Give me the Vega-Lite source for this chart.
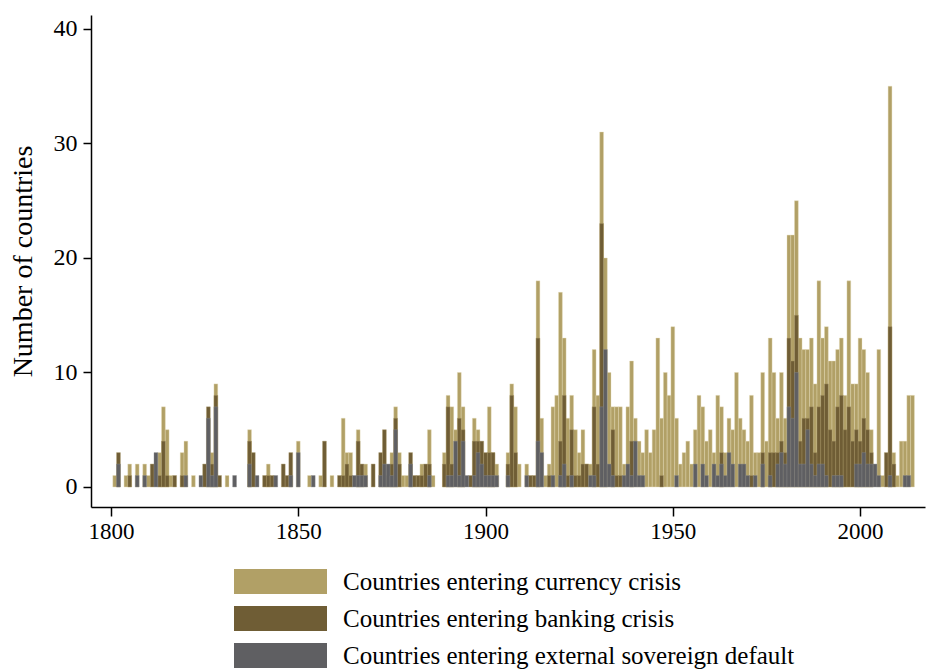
{
  "$schema": "https://vega.github.io/schema/vega-lite/v6.json",
  "width": 834,
  "height": 492,
  "autosize": {"type": "none"},
  "padding": {"left": 91, "top": 15, "right": 14, "bottom": 163},
  "background": "white",
  "config": {"view": {"stroke": null}, "font": "Liberation Serif"},
  "datasets": {
    "currency": [
      {"year":1801,"n":1},{"year":1804,"n":1},{"year":1805,"n":2},{"year":1807,"n":2},{"year":1809,"n":2},{"year":1810,"n":1},{"year":1813,"n":3},{"year":1814,"n":7},{"year":1815,"n":5},{"year":1816,"n":1},{"year":1819,"n":3},{"year":1820,"n":4},{"year":1822,"n":1},{"year":1827,"n":3},{"year":1828,"n":9},{"year":1831,"n":1},{"year":1837,"n":5},{"year":1842,"n":2},{"year":1850,"n":4},{"year":1853,"n":1},{"year":1856,"n":1},{"year":1859,"n":1},{"year":1862,"n":6},{"year":1863,"n":3},{"year":1864,"n":3},{"year":1866,"n":5},{"year":1868,"n":2},{"year":1875,"n":3},{"year":1876,"n":7},{"year":1877,"n":3},{"year":1878,"n":1},{"year":1879,"n":1},{"year":1883,"n":2},{"year":1885,"n":5},{"year":1886,"n":1},{"year":1889,"n":3},{"year":1890,"n":8},{"year":1891,"n":7},{"year":1892,"n":5},{"year":1893,"n":10},{"year":1894,"n":7},{"year":1897,"n":6},{"year":1898,"n":5},{"year":1901,"n":7},{"year":1902,"n":3},{"year":1903,"n":2},{"year":1906,"n":3},{"year":1907,"n":9},{"year":1908,"n":7},{"year":1909,"n":2},{"year":1911,"n":2},{"year":1914,"n":18},{"year":1915,"n":6},{"year":1916,"n":1},{"year":1917,"n":2},{"year":1918,"n":7},{"year":1919,"n":8},{"year":1920,"n":17},{"year":1921,"n":13},{"year":1922,"n":6},{"year":1923,"n":8},{"year":1924,"n":5},{"year":1925,"n":3},{"year":1926,"n":5},{"year":1927,"n":2},{"year":1928,"n":2},{"year":1929,"n":12},{"year":1930,"n":8},{"year":1931,"n":31},{"year":1932,"n":20},{"year":1933,"n":10},{"year":1934,"n":7},{"year":1935,"n":7},{"year":1936,"n":7},{"year":1937,"n":2},{"year":1938,"n":7},{"year":1939,"n":11},{"year":1940,"n":6},{"year":1941,"n":4},{"year":1942,"n":3},{"year":1943,"n":5},{"year":1944,"n":3},{"year":1945,"n":5},{"year":1946,"n":13},{"year":1947,"n":6},{"year":1948,"n":10},{"year":1949,"n":8},{"year":1950,"n":14},{"year":1951,"n":6},{"year":1952,"n":2},{"year":1953,"n":3},{"year":1954,"n":4},{"year":1955,"n":2},{"year":1956,"n":5},{"year":1957,"n":8},{"year":1958,"n":7},{"year":1959,"n":4},{"year":1960,"n":5},{"year":1961,"n":3},{"year":1962,"n":8},{"year":1963,"n":7},{"year":1964,"n":3},{"year":1965,"n":6},{"year":1966,"n":5},{"year":1967,"n":10},{"year":1968,"n":6},{"year":1969,"n":5},{"year":1970,"n":4},{"year":1971,"n":8},{"year":1972,"n":3},{"year":1973,"n":3},{"year":1974,"n":10},{"year":1975,"n":4},{"year":1976,"n":13},{"year":1977,"n":10},{"year":1978,"n":6},{"year":1979,"n":10},{"year":1980,"n":6},{"year":1981,"n":22},{"year":1982,"n":22},{"year":1983,"n":25},{"year":1984,"n":13},{"year":1985,"n":12},{"year":1986,"n":12},{"year":1987,"n":13},{"year":1988,"n":9},{"year":1989,"n":18},{"year":1990,"n":13},{"year":1991,"n":14},{"year":1992,"n":11},{"year":1993,"n":11},{"year":1994,"n":12},{"year":1995,"n":13},{"year":1996,"n":8},{"year":1997,"n":18},{"year":1998,"n":9},{"year":1999,"n":9},{"year":2000,"n":13},{"year":2001,"n":12},{"year":2002,"n":10},{"year":2003,"n":5},{"year":2005,"n":12},{"year":2006,"n":1},{"year":2008,"n":35},{"year":2009,"n":3},{"year":2010,"n":1},{"year":2011,"n":4},{"year":2012,"n":4},{"year":2013,"n":8},{"year":2014,"n":8}
    ],
    "banking": [
      {"year":1802,"n":3},{"year":1805,"n":1},{"year":1811,"n":2},{"year":1813,"n":1},{"year":1814,"n":4},{"year":1815,"n":1},{"year":1817,"n":1},{"year":1819,"n":1},{"year":1825,"n":2},{"year":1826,"n":7},{"year":1827,"n":2},{"year":1828,"n":8},{"year":1829,"n":1},{"year":1837,"n":4},{"year":1838,"n":3},{"year":1841,"n":1},{"year":1842,"n":1},{"year":1843,"n":1},{"year":1846,"n":2},{"year":1847,"n":1},{"year":1848,"n":3},{"year":1857,"n":4},{"year":1861,"n":1},{"year":1862,"n":1},{"year":1863,"n":2},{"year":1864,"n":1},{"year":1866,"n":4},{"year":1867,"n":2},{"year":1870,"n":2},{"year":1872,"n":3},{"year":1873,"n":5},{"year":1874,"n":1},{"year":1875,"n":2},{"year":1876,"n":6},{"year":1877,"n":2},{"year":1880,"n":3},{"year":1881,"n":1},{"year":1882,"n":1},{"year":1883,"n":1},{"year":1884,"n":2},{"year":1885,"n":2},{"year":1889,"n":2},{"year":1890,"n":7},{"year":1891,"n":2},{"year":1893,"n":6},{"year":1894,"n":5},{"year":1896,"n":1},{"year":1897,"n":4},{"year":1898,"n":4},{"year":1899,"n":4},{"year":1900,"n":3},{"year":1901,"n":3},{"year":1902,"n":3},{"year":1906,"n":2},{"year":1907,"n":8},{"year":1908,"n":3},{"year":1912,"n":1},{"year":1913,"n":1},{"year":1914,"n":13},{"year":1917,"n":1},{"year":1920,"n":4},{"year":1921,"n":8},{"year":1922,"n":1},{"year":1923,"n":5},{"year":1924,"n":1},{"year":1925,"n":1},{"year":1926,"n":2},{"year":1927,"n":2},{"year":1929,"n":7},{"year":1930,"n":2},{"year":1931,"n":23},{"year":1932,"n":2},{"year":1934,"n":5},{"year":1935,"n":1},{"year":1936,"n":1},{"year":1939,"n":4},{"year":1947,"n":1},{"year":1963,"n":3},{"year":1971,"n":1},{"year":1974,"n":3},{"year":1976,"n":3},{"year":1977,"n":3},{"year":1978,"n":3},{"year":1979,"n":4},{"year":1980,"n":3},{"year":1981,"n":13},{"year":1982,"n":11},{"year":1983,"n":15},{"year":1984,"n":4},{"year":1985,"n":6},{"year":1986,"n":6},{"year":1987,"n":7},{"year":1988,"n":3},{"year":1989,"n":7},{"year":1990,"n":8},{"year":1991,"n":9},{"year":1992,"n":5},{"year":1993,"n":4},{"year":1994,"n":7},{"year":1995,"n":8},{"year":1996,"n":5},{"year":1997,"n":7},{"year":1998,"n":4},{"year":1999,"n":5},{"year":2000,"n":4},{"year":2001,"n":6},{"year":2002,"n":5},{"year":2003,"n":3},{"year":2007,"n":3},{"year":2008,"n":14},{"year":2009,"n":2}
    ],
    "default": [
      {"year":1802,"n":2},{"year":1807,"n":1},{"year":1809,"n":1},{"year":1812,"n":3},{"year":1820,"n":1},{"year":1824,"n":1},{"year":1826,"n":6},{"year":1827,"n":1},{"year":1828,"n":7},{"year":1833,"n":1},{"year":1837,"n":2},{"year":1839,"n":1},{"year":1844,"n":1},{"year":1848,"n":1},{"year":1850,"n":3},{"year":1854,"n":1},{"year":1865,"n":1},{"year":1866,"n":1},{"year":1867,"n":1},{"year":1868,"n":1},{"year":1872,"n":1},{"year":1873,"n":2},{"year":1874,"n":2},{"year":1875,"n":1},{"year":1876,"n":5},{"year":1880,"n":2},{"year":1885,"n":1},{"year":1890,"n":1},{"year":1891,"n":1},{"year":1892,"n":4},{"year":1893,"n":1},{"year":1894,"n":4},{"year":1895,"n":1},{"year":1897,"n":1},{"year":1898,"n":3},{"year":1899,"n":2},{"year":1900,"n":1},{"year":1901,"n":1},{"year":1902,"n":1},{"year":1903,"n":1},{"year":1906,"n":1},{"year":1911,"n":1},{"year":1914,"n":4},{"year":1915,"n":3},{"year":1918,"n":1},{"year":1920,"n":1},{"year":1921,"n":2},{"year":1923,"n":1},{"year":1928,"n":1},{"year":1929,"n":1},{"year":1931,"n":7},{"year":1932,"n":12},{"year":1933,"n":2},{"year":1934,"n":1},{"year":1937,"n":1},{"year":1938,"n":2},{"year":1939,"n":1},{"year":1940,"n":4},{"year":1941,"n":1},{"year":1942,"n":1},{"year":1951,"n":1},{"year":1956,"n":2},{"year":1958,"n":2},{"year":1959,"n":1},{"year":1961,"n":2},{"year":1962,"n":1},{"year":1963,"n":2},{"year":1964,"n":1},{"year":1965,"n":3},{"year":1966,"n":2},{"year":1968,"n":2},{"year":1969,"n":2},{"year":1970,"n":1},{"year":1972,"n":1},{"year":1974,"n":2},{"year":1976,"n":1},{"year":1978,"n":2},{"year":1979,"n":3},{"year":1980,"n":2},{"year":1981,"n":7},{"year":1982,"n":6},{"year":1983,"n":10},{"year":1984,"n":2},{"year":1985,"n":2},{"year":1986,"n":5},{"year":1987,"n":2},{"year":1988,"n":1},{"year":1989,"n":2},{"year":1990,"n":2},{"year":1991,"n":1},{"year":1993,"n":1},{"year":1994,"n":1},{"year":1995,"n":1},{"year":1999,"n":2},{"year":2000,"n":2},{"year":2001,"n":3},{"year":2002,"n":2},{"year":2003,"n":2},{"year":2004,"n":2},{"year":2005,"n":1},{"year":2008,"n":1},{"year":2012,"n":1},{"year":2013,"n":1}
    ]
  },
  "encoding": {
    "x": {
      "field": "year", "type": "quantitative",
      "scale": {"domain": [1796, 2016], "nice": false, "zero": false},
      "axis": {"title": null, "values": [1800, 1850, 1900, 1950, 2000], "format": "d", "grid": false,
        "domainColor": "black", "domainWidth": 1.5, "tickColor": "black", "tickWidth": 1.5, "tickSize": 9,
        "labelFont": "Liberation Serif", "labelFontSize": 23, "labelColor": "black", "labelPadding": 4, "labelFlush": false}
    },
    "y": {
      "field": "n", "type": "quantitative",
      "scale": {"domain": [-1.75, 41.22], "nice": false, "zero": false},
      "axis": {"title": "Number of countries", "values": [0, 10, 20, 30, 40], "format": "d", "grid": false,
        "domainColor": "black", "domainWidth": 1.5, "tickColor": "black", "tickWidth": 1.5, "tickSize": 8,
        "labelFont": "Liberation Serif", "labelFontSize": 24, "labelColor": "black", "labelPadding": 6,
        "titleFont": "Liberation Serif", "titleFontSize": 28, "titleFontWeight": "normal", "titleColor": "black", "titlePadding": 16}
    },
    "y2": {"datum": 0}
  },
  "layer": [
    {
      "data": {"name": "currency"},
      "mark": {"type": "bar", "width": 3.8, "stroke": "#e6dcb8", "strokeWidth": 0.4},
      "encoding": {
        "color": {
          "datum": "Countries entering currency crisis",
          "scale": {
            "domain": ["Countries entering currency crisis", "Countries entering banking crisis", "Countries entering external sovereign default"],
            "range": ["#b1a066", "#6f5d35", "#5f5f62"]
          },
          "legend": {
            "title": null, "orient": "none", "legendX": 143, "legendY": 554, "direction": "vertical",
            "symbolType": "M-3.72,-1H3.72V1H-3.72Z", "symbolSize": 625, "symbolOffset": 34, "labelOffset": 50,
            "symbolStrokeWidth": 0, "symbolOpacity": 1,
            "labelFont": "Liberation Serif", "labelFontSize": 25, "labelColor": "black", "labelLimit": 600,
            "rowPadding": 11, "padding": 0
          }
        }
      }
    },
    {
      "data": {"name": "banking"},
      "mark": {"type": "bar", "width": 3.8, "stroke": "#a89868", "strokeWidth": 0.4},
      "encoding": {"color": {"datum": "Countries entering banking crisis"}}
    },
    {
      "data": {"name": "default"},
      "mark": {"type": "bar", "width": 3.8, "stroke": "#8a8a8a", "strokeWidth": 0.4},
      "encoding": {"color": {"datum": "Countries entering external sovereign default"}}
    }
  ]
}
